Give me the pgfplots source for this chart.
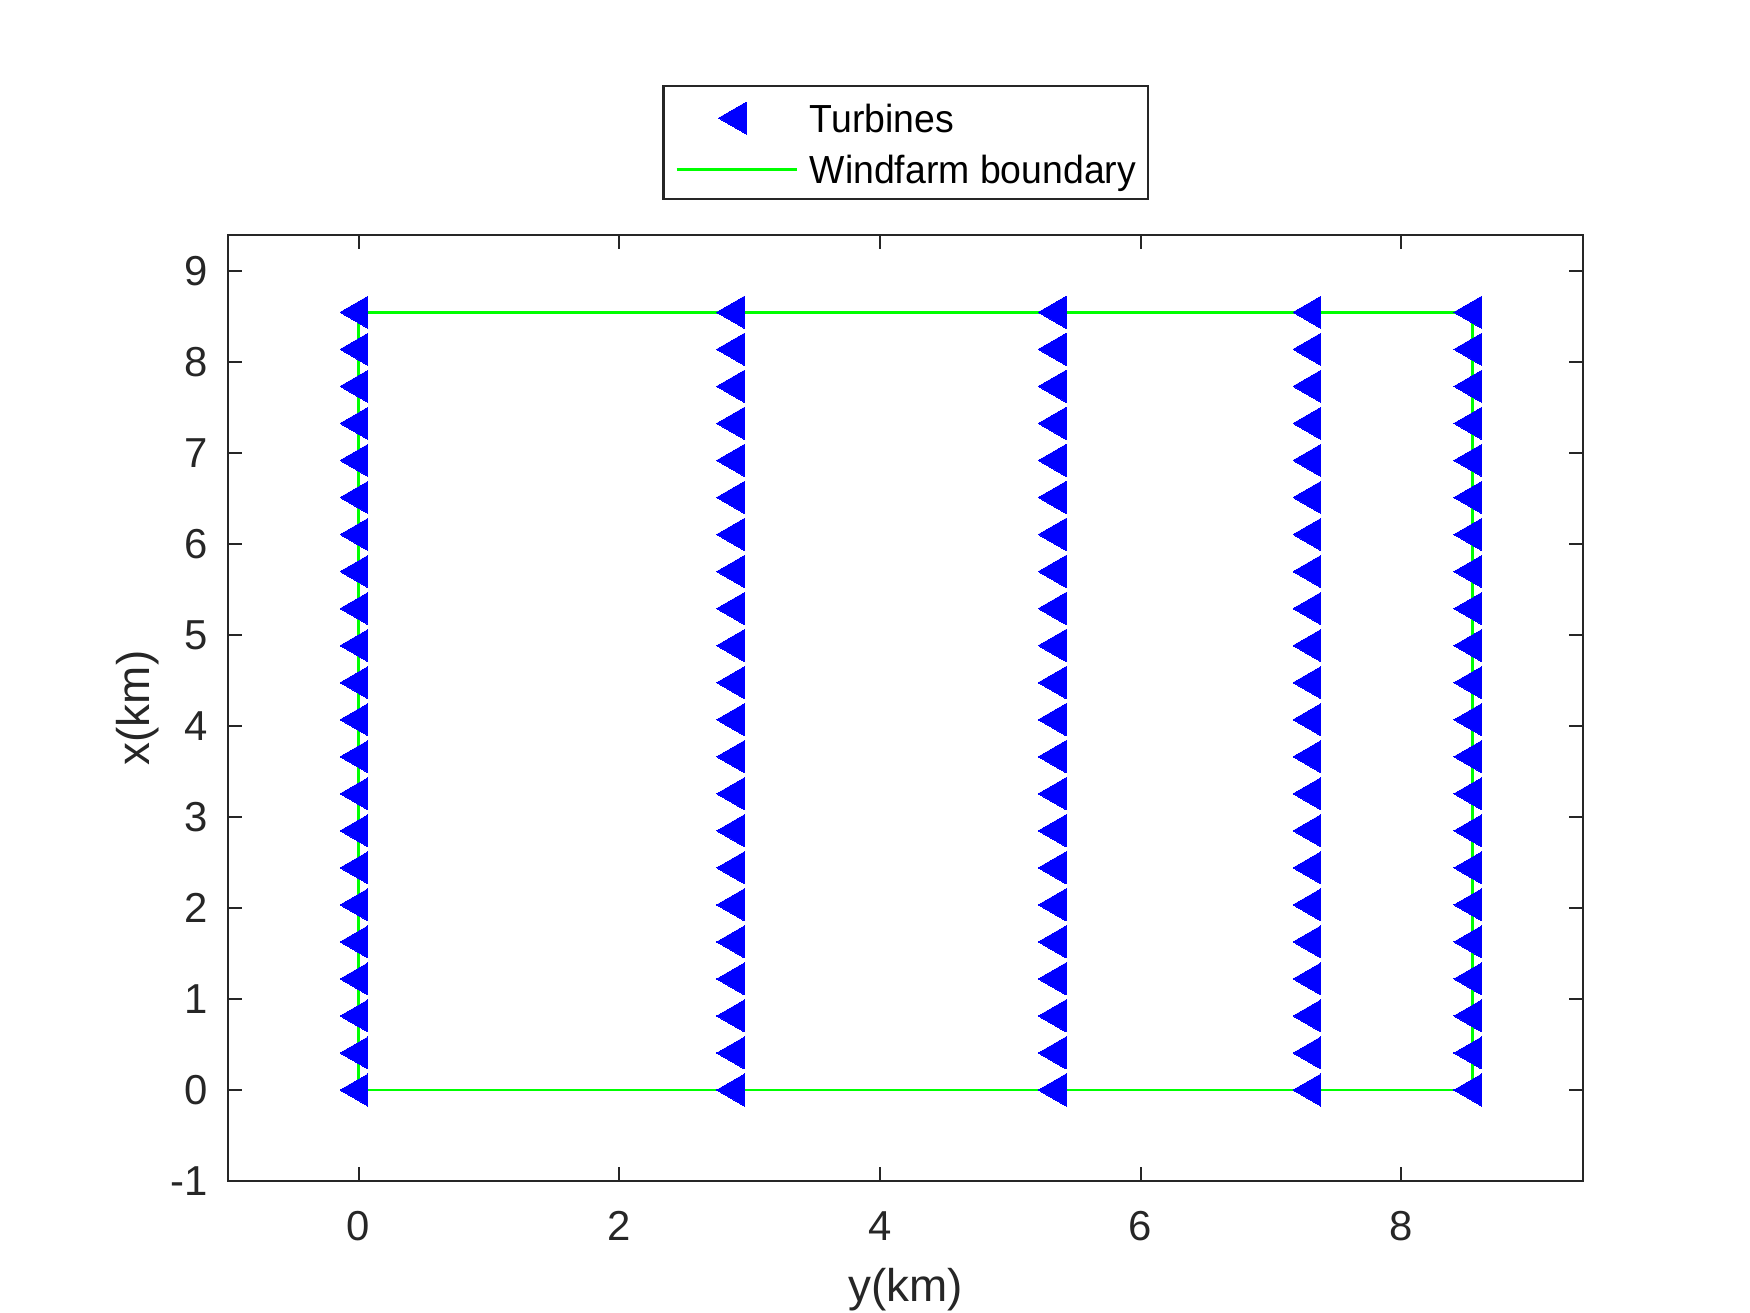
\documentclass[border=0pt]{standalone}
\usepackage{fontspec}
\setmainfont{Liberation Sans}
\newfontfamily\legfont[FakeStretch=0.955]{Liberation Sans}
\usepackage{pgfplots}
\usepackage{pgfplotstable}
\pgfplotsset{compat=1.18}
\definecolor{axgray}{RGB}{38,38,38}
\definecolor{mblue}{RGB}{0,0,255}
\definecolor{mgreen}{RGB}{0,255,0}

\pgfplotsset{
  lineleg/.style={legend image code/.code={\draw[##1] (0pt,0pt) -- (29pt,0pt);}},
  markleg/.style={legend image code/.code={\path[draw=none,fill=none] (0pt,-1pt) rectangle (29pt,1pt);
    \draw[##1, only marks, mark repeat=2, mark phase=2] plot coordinates {(0pt,0pt) (14.5pt,0pt) (29pt,0pt)};}},
  turb/.style={only marks, mark=triangle*, mark size=4.44pt, mblue,
    mark options={rotate=90, fill=mblue, draw=mblue, line width=0pt}},
}

\pgfplotstableread{
y c1 c2 c3 c4 c5
0.0000 0 2.889 5.357 7.312 8.546
0.4070 0 2.889 5.357 7.312 8.546
0.8139 0 2.889 5.357 7.312 8.546
1.2209 0 2.889 5.357 7.312 8.546
1.6278 0 2.889 5.357 7.312 8.546
2.0348 0 2.889 5.357 7.312 8.546
2.4417 0 2.889 5.357 7.312 8.546
2.8487 0 2.889 5.357 7.312 8.546
3.2556 0 2.889 5.357 7.312 8.546
3.6626 0 2.889 5.357 7.312 8.546
4.0695 0 2.889 5.357 7.312 8.546
4.4765 0 2.889 5.357 7.312 8.546
4.8834 0 2.889 5.357 7.312 8.546
5.2904 0 2.889 5.357 7.312 8.546
5.6973 0 2.889 5.357 7.312 8.546
6.1043 0 2.889 5.357 7.312 8.546
6.5112 0 2.889 5.357 7.312 8.546
6.9182 0 2.889 5.357 7.312 8.546
7.3251 0 2.889 5.357 7.312 8.546
7.7321 0 2.889 5.357 7.312 8.546
8.1390 0 2.889 5.357 7.312 8.546
8.5460 0 2.889 5.357 7.312 8.546
}\turbtab

\pgfplotstableread{
x y
0 0
8.546 0
8.546 8.546
0 8.546
0 0
}\bound

\begin{document}
\begin{tikzpicture}
\useasboundingbox (0,0) rectangle (420pt,315.12pt);
\begin{axis}[
  at={(54.79pt,31.68pt)}, anchor=south west,
  scale only axis, width=325.13pt, height=227.04pt,
  xmin=-1, xmax=9.395, ymin=-1, ymax=9.395,
  xtick={0,2,4,6,8}, xticklabels={0,2,4,6,8},
  ytick={-1,0,1,2,3,4,5,6,7,8,9}, yticklabels={-1,0,1,2,3,4,5,6,7,8,9},
  tick align=inside, major tick length=3.4pt,
  axis line style={axgray, line width=0.5pt},
  every tick/.style={axgray, line width=0.5pt},
  tick label style={font=\fontsize{10.05}{12}\selectfont, text=axgray},
  xticklabel style={yshift=-3.85pt},
  yticklabel style={xshift=-1.45pt},
  xlabel={y(km)}, ylabel={x(km)},
  label style={font=\fontsize{11}{13}\selectfont, text=axgray},
  xlabel style={at={(axis description cs:0.5,-0.1152)}, anchor=center},
  ylabel style={at={(axis description cs:-0.067,0.5)}, anchor=center},
  reverse legend,
  legend cell align=left,
  legend style={at={(0.5,1)}, anchor=south, yshift=8.33pt,
    draw=axgray, line width=0.5pt, fill=white,
    inner xsep=2.8pt, inner ysep=3.78pt, row sep=5.06pt, column sep=2.6pt,
    nodes={inner xsep=0pt, inner ysep=0pt, text height=6.8pt, text depth=0pt,
      font=\legfont\fontsize{9.4}{11}\selectfont, text=black}},
]
\addplot[mgreen, line width=0.7pt, mark=none, lineleg]
  table[x=x,y=y] {\bound};
\addlegendentry{Windfarm boundary}
\addplot[turb, markleg] table[x=c1,y=y] {\turbtab};
\addlegendentry{Turbines}
\addplot[forget plot, turb] table[x=c2,y=y] {\turbtab};
\addplot[forget plot, turb] table[x=c3,y=y] {\turbtab};
\addplot[forget plot, turb] table[x=c4,y=y] {\turbtab};
\addplot[forget plot, turb] table[x=c5,y=y] {\turbtab};
\end{axis}
\end{tikzpicture}
\end{document}
